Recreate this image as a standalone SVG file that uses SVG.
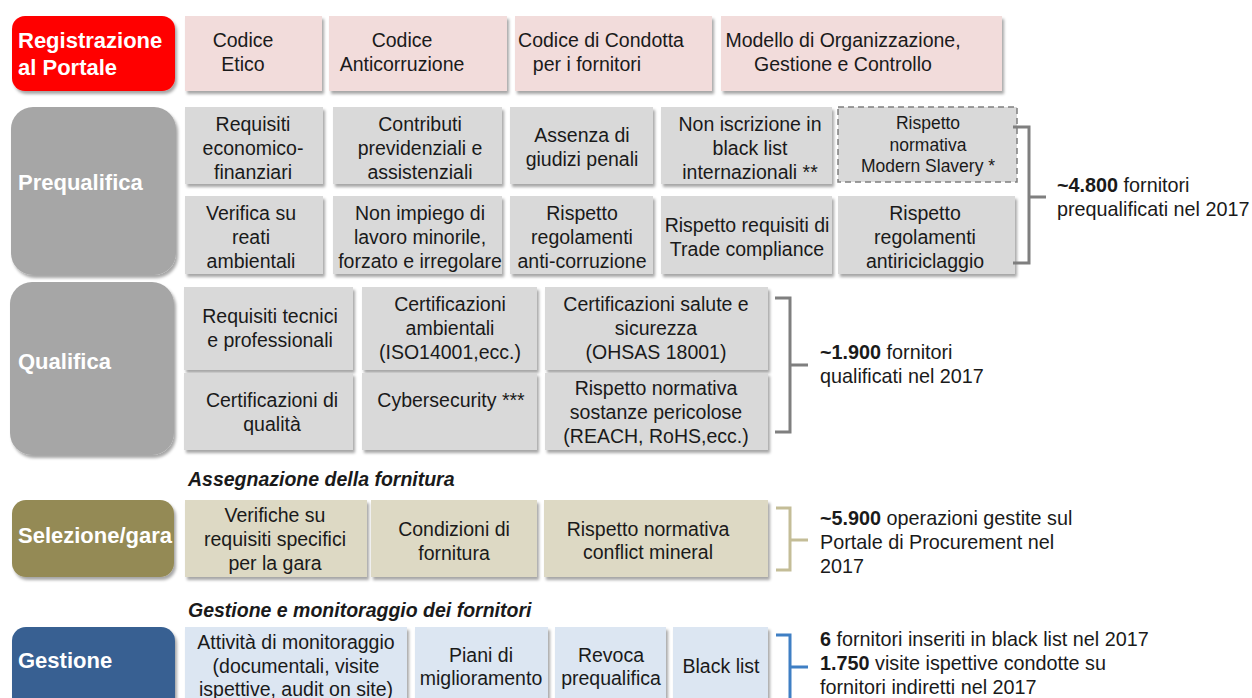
<svg xmlns="http://www.w3.org/2000/svg" width="1252" height="698" viewBox="0 0 1252 698">
<defs>
<filter id="sh" x="-10%" y="-10%" width="120%" height="130%">
<feDropShadow dx="2" dy="3" stdDeviation="1.5" flood-color="#000" flood-opacity="0.35"/>
</filter>
<style>
.st{font-family:"Liberation Sans",Arial,sans-serif;font-weight:bold;font-size:22px;fill:#fff}
.t{font-family:"Liberation Sans",Arial,sans-serif;font-size:19.5px;fill:#1a1a1a;text-anchor:middle}
.ts{font-family:"Liberation Sans",Arial,sans-serif;font-size:17.5px;fill:#1a1a1a;text-anchor:middle}
.r{font-family:"Liberation Sans",Arial,sans-serif;font-size:19.8px;fill:#1a1a1a}
.h{font-family:"Liberation Sans",Arial,sans-serif;font-size:19.5px;font-weight:bold;font-style:italic;fill:#1a1a1a}
.pk{fill:#F2DCDB;filter:url(#sh)}
.gr{fill:#D9D9D9;filter:url(#sh)}
.tn{fill:#DDD9C4;filter:url(#sh)}
.bl{fill:#DCE6F2;filter:url(#sh)}
.br{fill:none;stroke-width:3}
</style>
</defs>
<rect width="1252" height="698" fill="#fff"/>

<!-- Stage nodes -->
<g id="stage-registrazione">
<rect x="12" y="16" width="163" height="75" rx="13" fill="#FF0000" filter="url(#sh)"/>
<text class="st" x="18" y="48">Registrazione</text>
<text class="st" x="18" y="75">al Portale</text>
</g>
<g id="stage-prequalifica">
<rect x="11" y="107" width="165" height="168" rx="22" fill="#A6A6A6" filter="url(#sh)"/>
<text class="st" x="18" y="190">Prequalifica</text>
</g>
<g id="stage-qualifica">
<rect x="10" y="282" width="164" height="173" rx="22" fill="#A6A6A6" filter="url(#sh)"/>
<text class="st" x="18" y="369">Qualifica</text>
</g>
<g id="stage-selezione">
<rect x="12" y="500" width="162" height="77" rx="14" fill="#948A54" filter="url(#sh)"/>
<text class="st" x="18" y="543">Selezione/gara</text>
</g>
<g id="stage-gestione">
<rect x="12" y="627" width="163" height="90" rx="14" fill="#376092" filter="url(#sh)"/>
<text class="st" x="18" y="668">Gestione</text>
</g>

<!-- Row 1 -->
<g id="codice-etico"><rect class="pk" x="185" y="16" width="137" height="75"/>
<text class="t" x="243" y="47">Codice</text><text class="t" x="243" y="71">Etico</text></g>
<g id="codice-anticorruzione"><rect class="pk" x="329" y="16" width="178" height="75"/>
<text class="t" x="402" y="47">Codice</text><text class="t" x="402" y="71">Anticorruzione</text></g>
<g id="codice-condotta"><rect class="pk" x="515" y="16" width="197" height="75"/>
<text class="t" x="601" y="47">Codice di Condotta</text><text class="t" x="587" y="71">per i fornitori</text></g>
<g id="modello"><rect class="pk" x="721" y="16" width="281" height="75"/>
<text class="t" x="843" y="47">Modello di Organizzazione,</text><text class="t" x="843" y="71">Gestione e Controllo</text></g>

<!-- Prequalifica row A -->
<g id="pq-requisiti"><rect class="gr" x="185" y="107" width="138" height="77"/>
<text class="t" x="253" y="131">Requisiti</text><text class="t" x="253" y="155">economico-</text><text class="t" x="253" y="179">finanziari</text></g>
<g id="pq-contributi"><rect class="gr" x="333" y="107" width="169" height="77"/>
<text class="t" x="420" y="131">Contributi</text><text class="t" x="420" y="155">previdenziali e</text><text class="t" x="420" y="179">assistenziali</text></g>
<g id="pq-assenza"><rect class="gr" x="510" y="107" width="143" height="77"/>
<text class="t" x="582" y="142">Assenza di</text><text class="t" x="582" y="166">giudizi penali</text></g>
<g id="pq-blacklist"><rect class="gr" x="661" y="107" width="171" height="77"/>
<text class="t" x="750" y="131">Non iscrizione in</text><text class="t" x="750" y="155">black list</text><text class="t" x="750" y="179">internazionali  **</text></g>
<g id="pq-slavery"><rect x="838" y="107" width="179" height="75" fill="#D9D9D9" stroke="#7F7F7F" stroke-width="1.5" stroke-dasharray="6,4"/>
<text class="ts" x="928" y="129">Rispetto</text><text class="ts" x="928" y="151">normativa</text><text class="ts" x="928" y="172">Modern Slavery  *</text></g>

<!-- Prequalifica row B -->
<g id="pq-reati"><rect class="gr" x="185" y="196" width="138" height="78"/>
<text class="t" x="251" y="220">Verifica su</text><text class="t" x="251" y="244">reati</text><text class="t" x="251" y="268">ambientali</text></g>
<g id="pq-lavoro"><rect class="gr" x="333" y="196" width="169" height="78"/>
<text class="t" x="420" y="220">Non impiego di</text><text class="t" x="420" y="244">lavoro minorile,</text><text class="t" x="420" y="268">forzato e irregolare</text></g>
<g id="pq-anticorruzione"><rect class="gr" x="510" y="196" width="143" height="78"/>
<text class="t" x="582" y="220">Rispetto</text><text class="t" x="582" y="244">regolamenti</text><text class="t" x="582" y="268">anti-corruzione</text></g>
<g id="pq-trade"><rect class="gr" x="661" y="196" width="171" height="78"/>
<text class="t" x="747" y="232">Rispetto requisiti di</text><text class="t" x="747" y="256">Trade compliance</text></g>
<g id="pq-antiriciclaggio"><rect class="gr" x="838" y="196" width="177" height="78"/>
<text class="t" x="925" y="220">Rispetto</text><text class="t" x="925" y="244">regolamenti</text><text class="t" x="925" y="268">antiriciclaggio</text></g>

<!-- Qualifica row A -->
<g id="q-requisiti"><rect class="gr" x="184" y="287" width="169" height="83"/>
<text class="t" x="270" y="323">Requisiti tecnici</text><text class="t" x="270" y="347">e professionali</text></g>
<g id="q-ambientali"><rect class="gr" x="362" y="287" width="175" height="83"/>
<text class="t" x="450" y="311">Certificazioni</text><text class="t" x="450" y="335">ambientali</text><text class="t" x="450" y="359">(ISO14001,ecc.)</text></g>
<g id="q-salute"><rect class="gr" x="545" y="287" width="223" height="83"/>
<text class="t" x="656" y="311">Certificazioni salute e</text><text class="t" x="656" y="335">sicurezza</text><text class="t" x="656" y="359">(OHSAS 18001)</text></g>

<!-- Qualifica row B -->
<g id="q-qualita"><rect class="gr" x="184" y="373" width="169" height="77"/>
<text class="t" x="272" y="407">Certificazioni di</text><text class="t" x="272" y="431">qualità</text></g>
<g id="q-cyber"><rect class="gr" x="362" y="373" width="175" height="77"/>
<text class="t" x="451" y="407">Cybersecurity ***</text></g>
<g id="q-sostanze"><rect class="gr" x="545" y="373" width="223" height="77"/>
<text class="t" x="656" y="395">Rispetto normativa</text><text class="t" x="656" y="419">sostanze pericolose</text><text class="t" x="656" y="443">(REACH, RoHS,ecc.)</text></g>

<text class="h" x="188" y="486">Assegnazione della fornitura</text>

<!-- Selezione row -->
<g id="s-verifiche"><rect class="tn" x="185" y="500" width="182" height="77"/>
<text class="t" x="275" y="522">Verifiche su</text><text class="t" x="275" y="546">requisiti specifici</text><text class="t" x="275" y="570">per la gara</text></g>
<g id="s-condizioni"><rect class="tn" x="371" y="500" width="166" height="77"/>
<text class="t" x="454" y="536">Condizioni di</text><text class="t" x="454" y="560">fornitura</text></g>
<g id="s-conflict"><rect class="tn" x="544" y="500" width="224" height="77"/>
<text class="t" x="648" y="536">Rispetto normativa</text><text class="t" x="648" y="559">conflict mineral</text></g>

<text class="h" x="188" y="617">Gestione e monitoraggio dei fornitori</text>

<!-- Gestione row -->
<g id="g-monitoraggio"><rect class="bl" x="185" y="627" width="222" height="80"/>
<text class="t" x="296" y="649">Attività di monitoraggio</text><text class="t" x="296" y="673">(documentali, visite</text><text class="t" x="296" y="696">ispettive, audit on site)</text></g>
<g id="g-piani"><rect class="bl" x="415" y="627" width="133" height="80"/>
<text class="t" x="481" y="662">Piani di</text><text class="t" x="481" y="685">miglioramento</text></g>
<g id="g-revoca"><rect class="bl" x="555" y="627" width="111" height="80"/>
<text class="t" x="611" y="662">Revoca</text><text class="t" x="611" y="685">prequalifica</text></g>
<g id="g-blacklist"><rect class="bl" x="673" y="627" width="95" height="80"/>
<text class="t" x="721" y="673">Black list</text></g>

<!-- Brackets (connectors) -->
<g id="connectors">
<path class="br" stroke="#7F7F7F" d="M1013,127 H1029 V263 H1013 M1029,197 H1046"/>
<path class="br" stroke="#7F7F7F" d="M775,298 H790 V432 H775 M790,365 H808"/>
<path class="br" stroke="#C4BD97" d="M776,508 H790 V570 H776 M790,540 H808"/>
<path class="br" stroke="#3F7FC4" d="M776,635 H790 V700 M790,667 H808"/>
</g>

<!-- Summary texts -->
<g id="sum-prequalifica">
<text class="r" x="1057" y="192"><tspan font-weight="bold">~4.800</tspan> fornitori</text>
<text class="r" x="1057" y="216">prequalificati nel 2017</text>
</g>
<g id="sum-qualifica">
<text class="r" x="820" y="359"><tspan font-weight="bold">~1.900</tspan> fornitori</text>
<text class="r" x="820" y="383">qualificati nel 2017</text>
</g>
<g id="sum-selezione">
<text class="r" x="820" y="525"><tspan font-weight="bold">~5.900</tspan> operazioni gestite sul</text>
<text class="r" x="820" y="549">Portale di Procurement nel</text>
<text class="r" x="820" y="573">2017</text>
</g>
<g id="sum-gestione">
<text class="r" x="820" y="646"><tspan font-weight="bold">6</tspan> fornitori inseriti in black list nel 2017</text>
<text class="r" x="820" y="670"><tspan font-weight="bold">1.750</tspan> visite ispettive condotte su</text>
<text class="r" x="820" y="694">fornitori indiretti nel 2017</text>
</g>
</svg>
